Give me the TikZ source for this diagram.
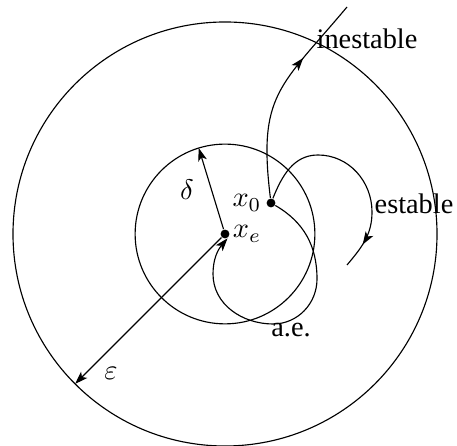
\documentclass[tikz,border=0pt]{standalone}
\usepackage{fontspec}
\setmainfont{Liberation Serif}
\usetikzlibrary{arrows.meta, positioning, decorations.markings}
\tikzset{
    % Regions around the equilibrium
    region/.style={circle, draw, inner sep=0pt, outer sep=0pt, minimum size=#1},
    % States
    stpoint/.style={circle, fill, inner sep=0pt, minimum size=1.1mm},
    % Radii and trajectories
    rarrow/.style={-{Stealth[length=1.6mm, width=1.1mm, inset=0.4mm]}, thin},
    traj/.style={thin, postaction={decorate}, decoration={markings,
                 mark=at position #1 with {\arrow{Stealth[length=1.6mm, width=1.1mm, inset=0.4mm]}}}},
    tlbl/.style={inner sep=0pt},
}

\begin{document}
\begin{tikzpicture}[x=0.0124cm, y=0.0124cm]
\useasboundingbox (-225,-212) rectangle (232,234);

% Equilibrium and initial state
\node[stpoint] (xe) at (0,0) {};
\node[stpoint] (x0) at (46,31) {};

% Regions
\node[region=5.26cm] (epsreg) at (xe) {};
\node[region=2.23cm] (delreg) at (xe) {};

% Radii
\draw[rarrow] (xe) -- (delreg.107);
\draw[rarrow] (xe) -- (epsreg.225);

% Trajectory ends
\coordinate (inend) at (122,227);
\coordinate (estend) at (122,-31);

% Unstable
\draw[traj=0.69] (x0) to[out=97, in=230, looseness=1.3] (inend);

% Stable
\draw[traj=0.88] (x0) to[out=68, in=180] (93,79)
    to[out=0, in=90] (147,22) to[out=-90, in=50] (estend);

% Asymptotically stable
\draw[rarrow] (x0) to[out=-30, in=90] (92,-45)
    to[out=-90, in=0] (48,-90) to[out=180, in=-90] (-12,-40)
    to[out=90, in=230] (xe.-60);

% Labels
\node[tlbl, left=0.5mm of x0] (lblx0) {$x_0$};
\node[tlbl, right=0.3mm of xe] (lblxe) {$x_e$};
\node (lbldelta) at (-38,44) {$\delta$};
\node (lbleps) at (-114,-139) {$\varepsilon$};
\node[tlbl] (lblae) at (66,-96) {a.e.};
\node[tlbl] (lblest) at (189,30) {estable};
\node[tlbl] (lblinest) at (142,195) {inestable};

\end{tikzpicture}
\end{document}
